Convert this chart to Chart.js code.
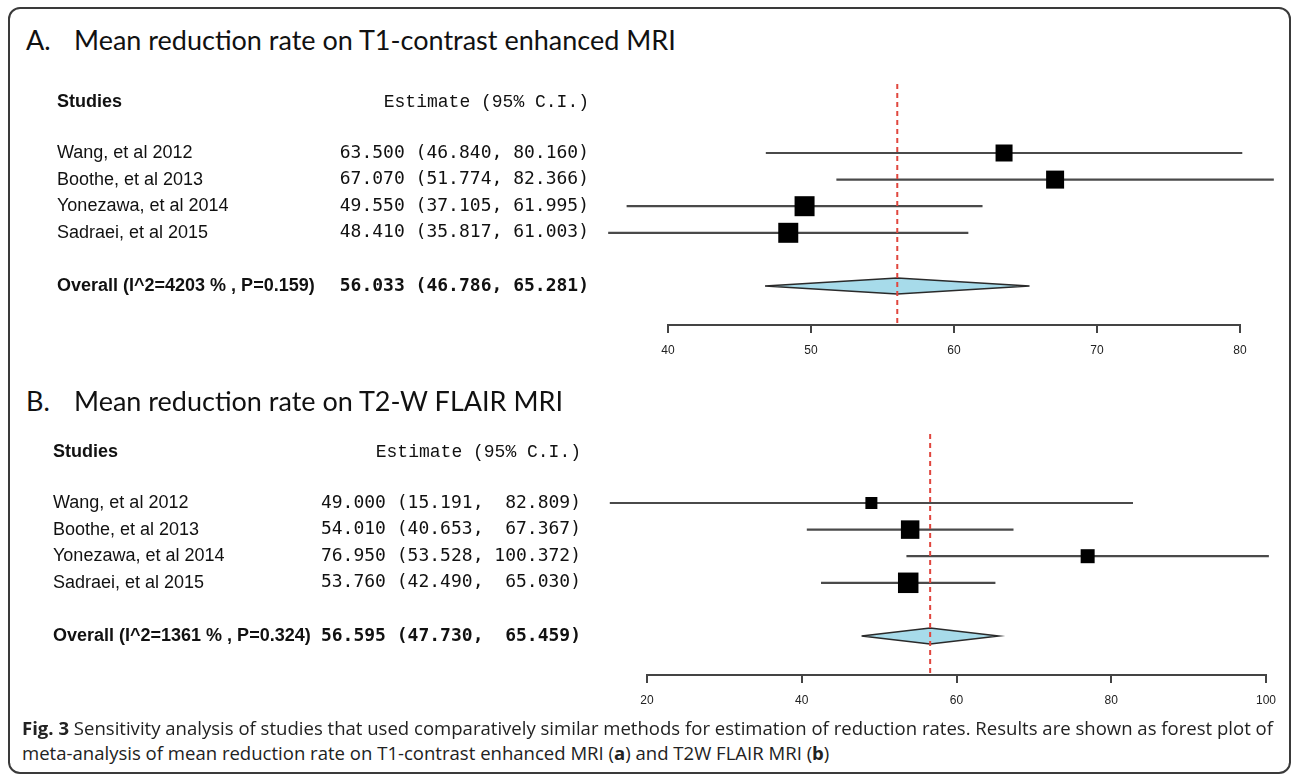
<!DOCTYPE html>
<html lang="en">
<head>
<meta charset="UTF-8">
<title>Fig. 3 Sensitivity analysis forest plots</title>
<style>
  html, body { margin: 0; padding: 0; background: #fff; }
  body { width: 1292px; height: 776px; position: relative; overflow: hidden; color: #111; }
  .frame { position: absolute; left: 8px; top: 7px; width: 1283px; height: 767px; box-sizing: border-box;
           border: 2px solid #3a3a3a; border-radius: 12px; }
  .title { position: absolute; font-family: Lato, "Open Sans", sans-serif; font-size: 27px; line-height: 30px; white-space: nowrap; }
  canvas { position: absolute; left: 0; }
  .caption { position: absolute; left: 22px; font-family: "Open Sans", sans-serif; font-size: 18px; line-height: 24px;
             white-space: nowrap; transform-origin: 0 50%; color: #222; }
</style>
<script src="https://cdn.jsdelivr.net/npm/chart.js"></script>
</head>
<body>
<div class="frame"></div>

<div class="title" style="left:26px; top:25px">A.</div>
<div class="title" style="left:74px; top:25px">Mean reduction rate on T1-contrast enhanced MRI</div>
<canvas id="plotA" width="1292" height="360" style="top:0"></canvas>

<div class="title" style="left:26px; top:386px">B.</div>
<div class="title" style="left:74px; top:386px">Mean reduction rate on T2-W FLAIR MRI</div>
<canvas id="plotB" width="1292" height="360" style="top:350px"></canvas>

<div class="caption" id="cap1" style="top:716px"><b>Fig. 3</b> Sensitivity analysis of studies that used comparatively similar methods for estimation of reduction rates. Results are shown as forest plot of</div>
<div class="caption" id="cap2" style="top:741px">meta-analysis of mean reduction rate on T1-contrast enhanced MRI (<b>a</b>) and T2W FLAIR MRI (<b>b</b>)</div>

<script>
// studies (same four in both panels)
const studies = ['Wang, et al 2012', 'Boothe, et al 2013', 'Yonezawa, et al 2014', 'Sadraei, et al 2015'];

// A. T1-contrast enhanced MRI
const estA = [63.500, 67.070, 49.550, 48.410];
const lowA = [46.840, 51.774, 37.105, 35.817];
const highA = [80.160, 82.366, 61.995, 61.003];
const overallA = [56.033, 46.786, 65.281]; // estimate, low, high
const overallLabelA = 'Overall (I^2=4203 % , P=0.159)';
const ticksA = [40, 50, 60, 70, 80];

// B. T2-W FLAIR MRI
const estB = [49.000, 54.010, 76.950, 53.760];
const lowB = [15.191, 40.653, 53.528, 42.490];
const highB = [82.809, 67.367, 100.372, 65.030];
const overallB = [56.595, 47.730, 65.459];
const overallLabelB = 'Overall (I^2=1361 % , P=0.324)';
const ticksB = [20, 40, 60, 80, 100];

// box side in px (study weight)
const boxA = [17, 18, 20, 20];
const boxB = [12, 18.5, 14, 20.5];

const Y_MIN = -2.594, Y_MAX = 6.466, HEAD_ROW = -1.92, DIAMOND_H = 0.3;
const SANS = '"Liberation Sans", Arial, Helvetica, sans-serif';

function forestPanel(id, p) {
  const n = p.est.length;
  const ovRow = n + 1;
  const fmt = v => v.toFixed(3);
  const hiW = Math.max(...p.high.concat([p.overall[2]]).map(v => fmt(v).length));
  const estText = (e, l, h) => fmt(e) + ' (' + fmt(l) + ', ' + fmt(h).padStart(hiW) + ')';

  const ciData = [];
  p.est.forEach((e, i) => {
    ciData.push({x: p.low[i], y: i}, {x: p.high[i], y: i}, {x: p.high[i], y: null});
  });
  const [ovE, ovL, ovH] = p.overall;

  const textCols = {
    id: 'textCols' + id,
    afterDraw(chart) {
      const ctx = chart.ctx, ys = chart.scales.y;
      ctx.save();
      ctx.fillStyle = '#111';
      ctx.textBaseline = 'middle';
      // headers
      ctx.textAlign = 'left';
      ctx.font = 'bold 18px ' + SANS;
      ctx.fillText('Studies', p.nameX, ys.getPixelForValue(HEAD_ROW));
      ctx.textAlign = 'right';
      ctx.font = '18px "Liberation Mono", "Courier New", monospace';
      ctx.fillText('Estimate (95% C.I.)', p.estRight, ys.getPixelForValue(HEAD_ROW));
      // study rows
      studies.forEach((s, i) => {
        const y = ys.getPixelForValue(i);
        ctx.textAlign = 'left';
        ctx.font = '18px ' + SANS;
        ctx.fillText(s, p.nameX, y);
        ctx.textAlign = 'right';
        ctx.font = '18px "DejaVu Sans Mono", monospace';
        ctx.fillText(estText(p.est[i], p.low[i], p.high[i]), p.estRight, y);
      });
      // overall row
      const yo = ys.getPixelForValue(ovRow);
      ctx.textAlign = 'left';
      ctx.font = 'bold 18px ' + SANS;
      ctx.fillText(p.overallLabel, p.nameX, yo);
      ctx.textAlign = 'right';
      ctx.font = 'bold 18px "DejaVu Sans Mono", monospace';
      ctx.fillText(estText(ovE, ovL, ovH), p.estRight, yo);
      ctx.restore();
    }
  };

  return new Chart(document.getElementById(id), {
    type: 'scatter',
    data: {
      datasets: [
        { // reference line at overall estimate
          type: 'line', order: 0, showLine: true, clip: false,
          data: [{x: ovE, y: Y_MIN}, {x: ovE, y: Y_MAX}],
          borderColor: '#e0463e', borderWidth: 2, borderDash: [5, 4], pointRadius: 0
        },
        { // confidence intervals
          type: 'line', order: 3, showLine: true, clip: false, spanGaps: false,
          data: ciData, borderColor: '#4a4a4a', borderWidth: 2.2, pointRadius: 0
        },
        { // study estimates
          type: 'scatter', order: 2, clip: false,
          data: p.est.map((e, i) => ({x: e, y: i})),
          pointStyle: 'rect', pointRadius: p.box.map(s => s / Math.SQRT2),
          backgroundColor: '#000', borderColor: '#000', borderWidth: 0
        },
        { // summary diamond
          type: 'line', order: 1, showLine: true, clip: false, fill: 'shape',
          data: [{x: ovL, y: ovRow}, {x: ovE, y: ovRow - DIAMOND_H}, {x: ovH, y: ovRow},
                 {x: ovE, y: ovRow + DIAMOND_H}, {x: ovL, y: ovRow}],
          backgroundColor: '#a7dbea', borderColor: '#2a2a2a', borderWidth: 1.5, pointRadius: 0
        }
      ]
    },
    options: {
      responsive: false, animation: false, devicePixelRatio: 1,
      layout: { padding: { left: p.left, right: p.right, top: 84, bottom: 0 } },
      plugins: { legend: { display: false }, tooltip: { enabled: false } },
      scales: {
        x: {
          type: 'linear', min: p.ticks[0], max: p.ticks[p.ticks.length - 1],
          afterBuildTicks: s => { s.ticks = p.ticks.map(v => ({value: v})); },
          afterFit: s => { s.height = 35; },
          grid: { drawOnChartArea: false, drawTicks: true, tickLength: 8, color: '#444', lineWidth: 2 },
          border: { display: true, color: '#444', width: 2 },
          ticks: { padding: 10, color: '#222', autoSkip: false, maxRotation: 0, font: { family: SANS, size: 12 } }
        },
        y: { type: 'linear', display: false, reverse: true, min: Y_MIN, max: Y_MAX }
      }
    },
    plugins: [textCols]
  });
}

forestPanel('plotA', { est: estA, low: lowA, high: highA, overall: overallA, overallLabel: overallLabelA,
  ticks: ticksA, box: boxA, left: 668, right: 1292 - 1240, nameX: 57, estRight: 589 });
forestPanel('plotB', { est: estB, low: lowB, high: highB, overall: overallB, overallLabel: overallLabelB,
  ticks: ticksB, box: boxB, left: 647, right: 1292 - 1266, nameX: 53, estRight: 581 });

// squeeze caption lines to the printed line width
const cap1 = document.getElementById('cap1'), cap2 = document.getElementById('cap2');
const sx = 1251 / cap1.getBoundingClientRect().width;
cap1.style.transform = cap2.style.transform = 'scaleX(' + sx + ')';
</script>
</body>
</html>
